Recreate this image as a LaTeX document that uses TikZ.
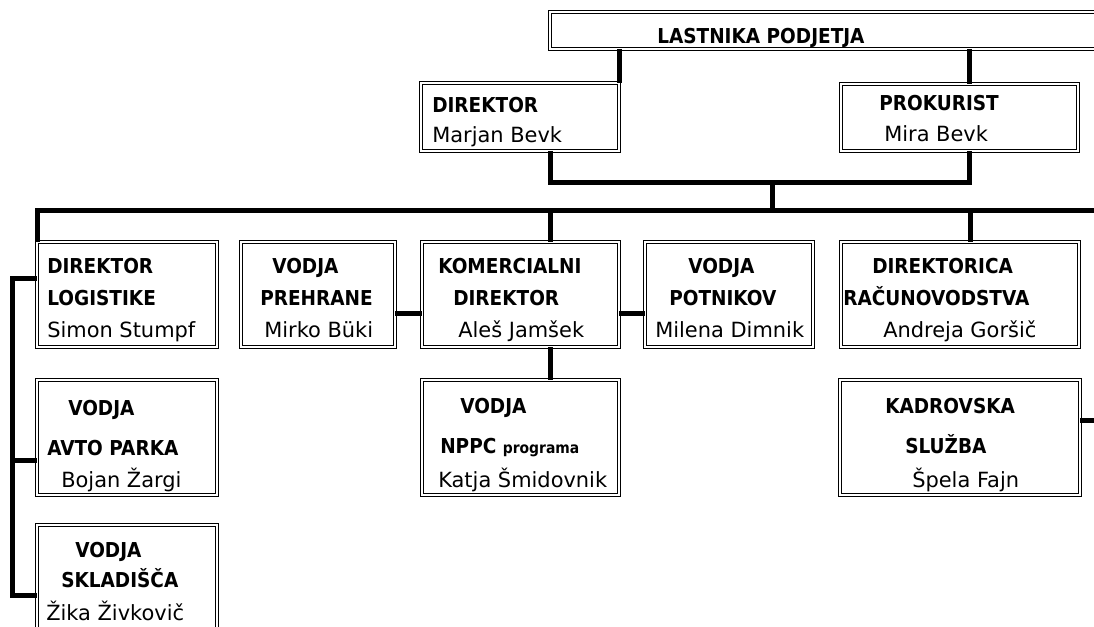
\documentclass[tikz,border=0pt]{standalone}
\usepackage{fontspec}
\setmainfont{DejaVu Sans}
\newfontfamily\headfont[FakeStretch=0.9]{DejaVu Sans}

% a framed box given by its top-left and bottom-right corners (px units)
\newcommand\orgbox[5]{%
  \pgfmathsetlengthmacro\orgboxw{(#4-#2)*0.75pt}%
  \pgfmathsetlengthmacro\orgboxh{(#5-#3)*0.75pt}%
  \node[box, minimum width=\orgboxw, minimum height=\orgboxh] (#1) at (#2,#3) {};}

\tikzset{
  box/.style={draw, double, line width=0.75pt, double distance=1.5pt,
    fill=white, inner sep=0pt, outer sep=0pt, anchor=north west},
  conn/.style={line width=3.75pt},
  hd/.style={anchor=base west, inner sep=0pt,
    font=\headfont\bfseries\fontsize{15.4}{18}\selectfont},
  nm/.style={anchor=base west, inner sep=0pt,
    font=\fontsize{15.7}{18}\selectfont},
}

\begin{document}
\begin{tikzpicture}[x=0.75pt, y=-0.75pt]
\useasboundingbox (0,0) rectangle (1094,627);
\clip (0,0) rectangle (1094,627);

% boxes
\orgbox{top}{550}{12}{1110}{49}
\orgbox{dir}{421}{83}{619}{151}
\orgbox{prok}{841}{84}{1078}{151}
\orgbox{dlog}{37}{242}{217}{347}
\orgbox{preh}{241}{242}{395}{347}
\orgbox{kom}{422}{242}{619}{347}
\orgbox{potn}{645}{242}{813}{347}
\orgbox{racun}{841}{242}{1079}{347}
\orgbox{avto}{37}{380}{217}{495}
\orgbox{sklad}{37}{525}{217}{645}
\orgbox{nppc}{422}{380}{619}{495}
\orgbox{kadr}{840}{380}{1080}{495}

% reference points of the connector runs
\coordinate (xd) at (550,0);
\coordinate (xr) at (969,0);
\coordinate (xs) at (772,0);
\coordinate (xa) at (970,0);
\coordinate (xb) at (12,0);
\coordinate (edge) at (1110,0);
\coordinate (yh) at (0,183);
\coordinate (yb) at (0,211);
\coordinate (ym) at (0,313);
\coordinate (y1) at (0,278);
\coordinate (y2) at (0,460);
\coordinate (y3) at (0,595);
\coordinate (yk) at (0,420);

% connectors
\draw[conn] (top.south -| dir.north east) -- (dir.north east);
\draw[conn] (top.south -| xr) -- (prok.north -| xr);
\draw[conn] (dir.south -| xd) -- (xd |- yh) -- (xr |- yh) -- (prok.south -| xr);
\draw[conn] (xs |- yh) -- (xs |- yb);
\draw[conn] (dlog.north west) -- (dlog.north west |- yb) -- (edge |- yb);
\draw[conn] (xd |- yb) -- (kom.north -| xd);
\draw[conn] (xa |- yb) -- (racun.north -| xa);
\draw[conn] (kom.south -| xd) -- (nppc.north -| xd);
\draw[conn] (dlog.west |- y1) -- (xb |- y1) -- (xb |- y3) -- (sklad.west |- y3);
\draw[conn] (xb |- y2) -- (avto.west |- y2);
\draw[conn] (preh.east |- ym) -- (kom.west |- ym);
\draw[conn] (kom.east |- ym) -- (potn.west |- ym);
\draw[conn] (kadr.east |- yk) -- (edge |- yk);

% texts
\node[hd] (top-a) at (657,44) {LASTNIKA PODJETJA};

\node[hd] (dir-a) at (432,113) {DIREKTOR};
\node[nm] (dir-b) at (432,143) {Marjan Bevk};

\node[hd] (prok-a) at (879,111) {PROKURIST};
\node[nm] (prok-b) at (884,142) {Mira Bevk};

\node[hd] (dlog-a) at (47,273) {DIREKTOR};
\node[hd] (dlog-b) at (47,305) {LOGISTIKE};
\node[nm] (dlog-c) at (47,337) {Simon Stumpf};

\node[hd] (preh-a) at (272,273) {VODJA};
\node[hd] (preh-b) at (260,305) {PREHRANE};
\node[nm] (preh-c) at (264,337) {Mirko Büki};

\node[hd] (kom-a) at (438,273) {KOMERCIALNI};
\node[hd] (kom-b) at (453,305) {DIREKTOR};
\node[nm] (kom-c) at (458,337) {Aleš Jamšek};

\node[hd] (potn-a) at (688,273) {VODJA};
\node[hd] (potn-b) at (669,305) {POTNIKOV};
\node[nm] (potn-c) at (655,337) {Milena Dimnik};

\node[hd] (racun-a) at (872,273) {DIREKTORICA};
\node[hd] (racun-b) at (843,305) {RAČUNOVODSTVA};
\node[nm] (racun-c) at (883,337) {Andreja Goršič};

\node[hd] (avto-a) at (68,415) {VODJA};
\node[hd] (avto-b) at (47,455) {AVTO PARKA};
\node[nm] (avto-c) at (61,487) {Bojan Žargi};

\node[hd] (sklad-a) at (75,557) {VODJA};
\node[hd] (sklad-b) at (61,587) {SKLADIŠČA};
\node[nm] (sklad-c) at (46,620) {Žika Živkovič};

\node[hd] (nppc-a) at (460,413) {VODJA};
\node[hd] (nppc-b) at (440,453) {NPPC {\fontsize{11.6}{14}\selectfont programa}};
\node[nm] (nppc-c) at (438,487) {Katja Šmidovnik};

\node[hd] (kadr-a) at (885,413) {KADROVSKA};
\node[hd] (kadr-b) at (905,453) {SLUŽBA};
\node[nm] (kadr-c) at (912,487) {Špela Fajn};
\end{tikzpicture}
\end{document}
